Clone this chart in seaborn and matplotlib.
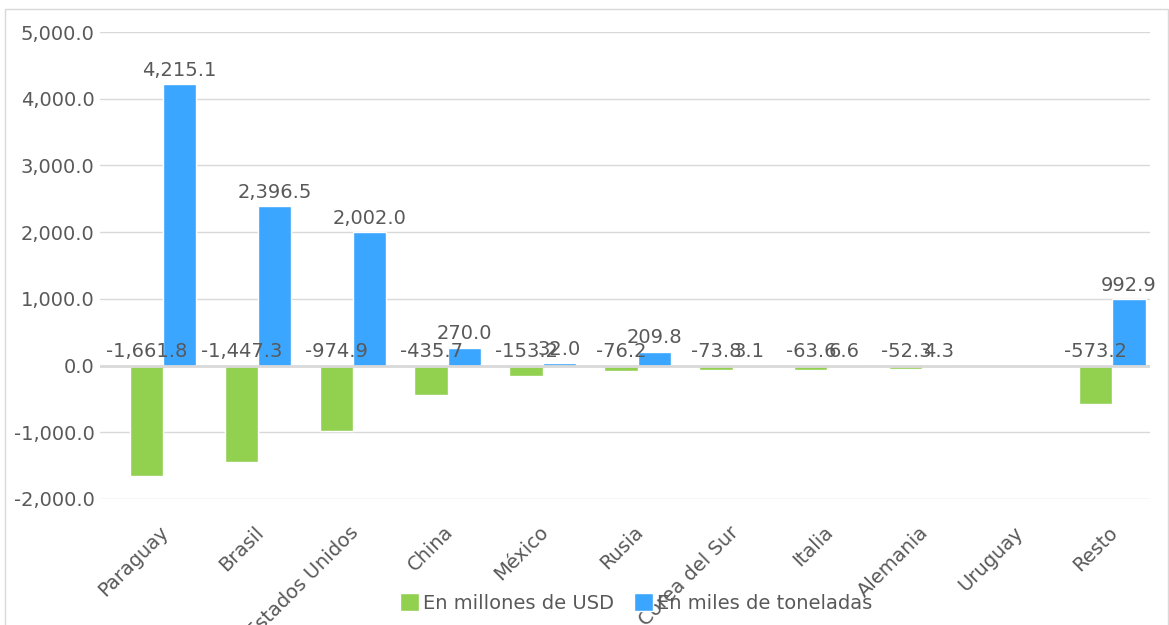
import numpy as np
import pandas as pd
import matplotlib.pyplot as plt
import matplotlib.transforms as mtransforms
import seaborn as sns

paises = ["Paraguay", "Brasil", "Estados Unidos", "China", "México", "Rusia",
          "Corea del Sur", "Italia", "Alemania", "Uruguay", "Resto"]
usd = [-1661.8, -1447.3, -974.9, -435.7, -153.2, -76.2, -73.8, -63.6, -52.3, np.nan, -573.2]
toneladas = [4215.1, 2396.5, 2002.0, 270.0, 32.0, 209.8, 3.1, 6.6, 4.3, np.nan, 992.9]
series = ["En millones de USD", "En miles de toneladas"]

df = pd.DataFrame({
    "pais": paises * 2,
    "valor": usd + toneladas,
    "serie": [series[0]] * len(paises) + [series[1]] * len(paises),
})

sns.set_theme(style="white")
plt.rcParams["font.family"] = ["DejaVu Sans"]
txt = "#595959"
fs = 14

fig = plt.figure(figsize=(11.69, 6.25), dpi=100)
ax = fig.add_axes([0.0855, 0.2016, 0.8985, 0.7472])

sns.barplot(data=df, x="pais", y="valor", hue="serie", order=paises, hue_order=series,
            palette=["#92D050", "#3AA6FF"], width=0.7, saturation=1, ax=ax,
            legend=True, errorbar=None)

ax.set_ylim(-2000, 5000)
ax.set_xlim(-0.663, 10.4)
ax.set_yticks(np.arange(-2000, 5001, 1000))
ax.yaxis.set_major_formatter(plt.FuncFormatter(lambda v, p: f"{v:,.1f}"))
ax.grid(axis="y", color="#d9d9d9", lw=1)
ax.set_axisbelow(True)
ax.axhline(0, color="#d9d9d9", lw=2, zorder=1)
for s in ax.spines.values():
    s.set_visible(False)
ax.set_xlabel("")
ax.set_ylabel("")
ax.tick_params(axis="y", labelsize=fs, labelcolor=txt, pad=4, length=0)
ax.tick_params(axis="x", labelsize=fs, labelcolor=txt, length=0, pad=17)
off = mtransforms.ScaledTranslation(-4 / 100, 0, fig.dpi_scale_trans)
for lab in ax.get_xticklabels():
    lab.set_rotation(45)
    lab.set_ha("right")
    lab.set_va("top")
    lab.set_rotation_mode("anchor")
    lab.set_transform(lab.get_transform() + off)

# etiquetas de datos
for cont, serie in zip(ax.containers, series):
    for bar in cont:
        h = bar.get_height()
        if np.isnan(h):
            continue
        x = bar.get_x() + bar.get_width() / 2
        ax.annotate(f"{h:,.1f}", (x, max(h, 0)), xytext=(0, 3), textcoords="offset points",
                    ha="center", va="bottom", fontsize=fs, color=txt)

ax.get_legend().remove()
handles, labels = ax.get_legend_handles_labels()
fig.legend(handles[:2], labels[:2], loc="center", bbox_to_anchor=(0.544, 0.035), ncol=2,
           frameon=False, fontsize=fs, labelcolor=txt, handlelength=1.0, handleheight=1.0,
           handletextpad=0.2, columnspacing=1.0)

fig.patches.append(plt.Rectangle((0.004, -0.01), 0.995, 0.995, transform=fig.transFigure,
                                 fill=False, edgecolor="#d9d9d9", lw=1))

fig.savefig("out.png", dpi=100)
